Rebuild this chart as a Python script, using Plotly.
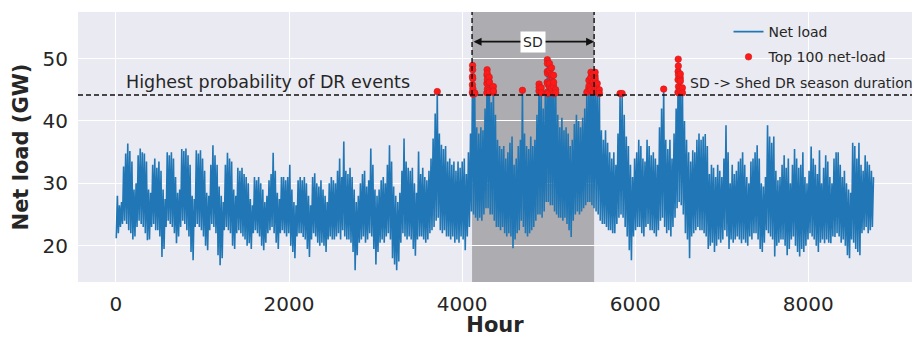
import plotly.graph_objects as go

# ---------------- data ----------------
# daily maximum (evening) net load, GW, one value per day of the year
DAILY_PEAK = [
    28, 26.5, 27, 32.7, 34.8, 36.4, 35.2,
    33.5, 29, 30, 34.5, 35.6, 35, 34.8,
    33.5, 29, 28.5, 33, 34, 32.5, 33.5,
    32, 29, 27.5, 35, 34.5, 35, 34,
    31, 28.5, 29, 35.5, 35.2, 35.6, 34.5,
    33, 28, 27.5, 35.3, 34.8, 35.3, 34,
    32, 28.5, 28, 33, 36.1, 34.5, 33,
    29.5, 28, 27, 33, 34.9, 34, 33.5,
    29, 28, 32.5, 32, 32.5, 31.5, 31,
    30, 27.5, 26.5, 31, 30.5, 31, 30,
    29, 27, 28, 30.5, 31.5, 34.9, 32,
    28.5, 27.5, 31, 31, 30.5, 31, 33,
    29, 27, 26.5, 30.5, 31, 30.5, 31,
    30, 28, 26.5, 31, 31.6, 30, 29.5,
    30.5, 29, 28, 27, 30, 31, 30.5,
    30, 32, 34, 31, 36.7, 32, 31.5,
    32.5, 31, 29, 27, 28, 30, 31.5,
    32, 29.5, 30.5, 35.6, 33, 29, 28,
    29, 30.5, 31, 30, 33, 36.1, 33.5,
    29.5, 28, 27, 28.5, 32, 37.2, 33.5,
    32.5, 32, 32.5, 30, 28.5, 35.1, 31.5,
    32.5, 31, 30.5, 32, 34, 37.2, 41.2,
    44.7, 38, 36.2, 35.5, 36, 33.5, 34,
    33, 33.5, 32, 33.5, 32.5, 33.5, 34,
    31.5, 35, 38, 48.9, 44.5, 39, 38,
    39, 38.5, 42, 48.2, 47, 43, 45.5,
    41, 37, 36, 35.5, 36, 34, 35,
    36.5, 37.5, 33, 34, 36, 37, 44.9,
    38, 36, 35.5, 37.5, 36, 37, 41,
    45.9, 45.3, 42, 44, 49.8, 49.2, 48.5,
    47.3, 45, 41, 39, 40.5, 38.5, 39,
    38, 36, 37, 39.5, 41, 40, 39,
    40.5, 42, 43, 46.5, 47.8, 47.5, 47.8,
    46, 45, 38.5, 37, 38.5, 36.5, 35,
    34, 35, 33, 38, 44.4, 44.4, 41,
    37.5, 36, 33, 31, 34, 35, 37,
    36, 34, 33.5, 37, 36, 34.5, 35,
    34, 33, 39, 42, 45.1, 37, 35.5,
    37, 34, 38, 42, 49.9, 47.5, 45.3,
    40, 37, 35, 33.5, 35.3, 35, 37,
    38, 37, 37.5, 37.9, 36, 31.5, 33,
    32.5, 31, 33, 32, 31, 34, 39.3,
    35, 30, 33, 31.5, 32, 33.5, 34,
    35, 33, 31, 30, 33.5, 34, 35,
    36.1, 34, 30, 29.5, 31, 39.3, 37.5,
    36.5, 37.5, 32, 30.5, 31, 33, 34.5,
    32.5, 34, 30, 33, 35.5, 34, 32.5,
    33, 35, 31, 30, 32, 35.9, 34,
    33, 31.5, 35.3, 30, 32.5, 34.5, 33.5,
    31, 30, 34, 35, 35, 33, 31,
    32, 30, 29, 28.5, 36.5, 36, 34,
    36.5, 33, 32, 34.5, 33.5, 33, 32,
    31,
]

# daily minimum (early-morning) net load, GW
DAILY_TROUGH = [
    21.2, 22, 23, 23.5, 24, 23.5, 22.5,
    22, 21, 21.5, 23, 24, 23.5, 23,
    22, 20.9, 21, 23, 23.5, 22.5, 22.5,
    21.5, 18.2, 19.5, 23, 24, 23.5, 23,
    22, 20.4, 21.5, 23, 24, 23.5, 22.5,
    21.5, 19, 17.7, 23, 23.5, 23, 22.5,
    21.5, 20, 19.3, 22.5, 23.5, 23, 22,
    18.5, 16.9, 18, 22.5, 23, 22.5, 22,
    20, 19.5, 22, 22.5, 22, 21.5, 21,
    20, 20.4, 19.5, 22, 22.5, 22, 21.5,
    20, 19.3, 20.5, 22, 22.5, 23, 22,
    20.5, 19.5, 22, 22.5, 22, 21.5, 22,
    20, 19, 18, 21.5, 22, 22, 21.4,
    21, 19.5, 18.2, 21, 22, 21.5, 20.5,
    20, 20.5, 20, 19, 21, 21.5, 21,
    21, 21.5, 22, 21, 22.5, 21.5, 21,
    21, 20.5, 19, 16.1, 18.5, 20.5, 21,
    21.5, 20.5, 21, 22, 21.5, 19.5, 17,
    19, 20.5, 21, 20.5, 21.5, 22, 21,
    18, 17, 16.1, 17.5, 20.5, 22, 21.5,
    21, 21.5, 21, 19.5, 18.4, 21, 21.5,
    21.5, 21, 20.5, 21, 22, 22.5, 23,
    24, 24.5, 22.5, 22, 22.5, 21.5, 21.5,
    21, 21.5, 20.5, 21, 20.5, 21.5, 21,
    19.3, 21.5, 23, 25.5, 25, 24.5, 24,
    24.5, 24, 25, 26, 26, 25, 25,
    24, 23, 23, 22.5, 23, 22, 21.5,
    22, 21.5, 19.6, 21, 22, 22.5, 24,
    23, 22, 21.5, 22, 22.5, 23, 24,
    25, 25, 24.5, 25.5, 27, 27, 26.5,
    26.5, 25.5, 25, 24.5, 24.5, 24, 24.5,
    23.5, 22.5, 21.4, 24, 25, 25.5, 25,
    25.5, 26, 26.5, 27, 27, 26.5, 26,
    25.5, 25, 24, 23.5, 23.5, 23, 22.5,
    22.5, 22, 22, 23.5, 24.5, 25, 24.5,
    23, 21.5, 19.3, 17.7, 21.5, 22.5, 23,
    23, 22, 21.5, 23, 23.5, 22.5, 22.5,
    22, 21.5, 22.5, 24, 24.5, 23, 22,
    22.5, 21.5, 23, 24.5, 26, 27, 26.5,
    25, 22, 21, 18, 21.5, 22, 22.5,
    23, 22.5, 22.5, 22, 21.5, 19.5, 20,
    20.5, 19, 20, 21, 20.5, 21, 22.5,
    21.5, 19.5, 21, 20.5, 21, 21.5, 21,
    20.4, 21, 20.5, 20, 21.5, 21, 22,
    22, 21, 19.5, 19, 20.5, 22.5, 22,
    21.5, 21, 18.3, 20, 20.5, 21, 21,
    20, 18.5, 19.5, 21, 21.5, 20, 19,
    18.3, 19.5, 19, 20, 21, 22, 21.5,
    21, 20, 19, 20.5, 21, 20.4, 21,
    20.5, 20.4, 21.5, 21.4, 22, 21.5, 20.5,
    21, 20, 18.5, 18, 21, 20.5, 19.5,
    19, 18.5, 22, 22.5, 23, 22, 22.5,
    23,
]
TROUGH_HOUR_OF_DAY = 4
PEAK_HOUR_OF_DAY = 17

# the 100 highest-load hours (hour of year, GW)
TOP_HOURS = [
    3713,
    4118, 4119, 4120, 4121, 4122, 4123, 4124, 4125, 4145, 4146,
    4286, 4287, 4288, 4289, 4290, 4291, 4292,
    4311, 4312, 4313, 4314, 4315, 4360, 4361, 4362,
    4697,
    4888, 4889, 4890, 4913, 4914,
    4982, 4983, 4984, 4985, 4986, 4987, 4988, 4989,
    5007, 5008, 5009, 5010, 5011,
    5031, 5032, 5033, 5034, 5035, 5056, 5057, 5058, 5059, 5081, 5082,
    5441, 5464, 5465, 5466, 5487, 5488, 5489, 5490, 5491,
    5512, 5513, 5514, 5515, 5535, 5536, 5537, 5538, 5539,
    5560, 5561, 5562, 5585, 5586,
    5825, 5849,
    6329,
    6494, 6495, 6496, 6497, 6498, 6499, 6500, 6501,
    6519, 6520, 6521, 6522, 6523, 6545, 6546,
]
TOP_LOADS = [
    44.7,
    44.6, 45.8, 47.1, 48.9, 48.2, 46.8, 45.2, 44.3, 44.5, 44.4,
    44.5, 46.0, 47.3, 48.2, 47.6, 46.6, 45.1,
    44.9, 46.3, 47.0, 46.2, 44.6, 44.6, 45.5, 44.8,
    44.9,
    44.8, 45.9, 45.4, 45.3, 44.5,
    44.6, 46.2, 47.9, 49.8, 49.2, 47.6, 45.9, 44.4,
    45.6, 47.8, 49.2, 48.1, 46.0,
    45.0, 47.1, 48.5, 47.4, 45.3, 45.6, 47.3, 46.2, 44.4, 45.0, 44.5,
    44.6, 45.2, 46.5, 45.6, 45.5, 47.0, 47.8, 46.9, 45.0,
    46.1, 47.5, 46.4, 44.6, 45.8, 47.2, 47.8, 46.7, 45.2,
    44.9, 46.0, 45.1, 45.0, 44.4,
    44.4, 44.4,
    45.1,
    44.6, 46.6, 47.9, 49.9, 48.8, 47.4, 45.5, 44.5,
    45.3, 46.9, 47.5, 46.4, 44.8, 45.3, 44.5,
]

DR_THRESHOLD = 44.15          # GW, highest probability of DR events
SD_START, SD_END = 4115, 5525  # shed DR season (hours)
SD_ARROW_LEVEL = 52.7

X_TICKS = [0, 2000, 4000, 6000, 8000]
Y_TICKS = [20, 30, 40, 50]
X_RANGE = [-438, 9198]
Y_RANGE = [14.2, 57.45]

# ---------------- build hourly series ----------------
points = {}
for d, (lo, hi) in enumerate(zip(DAILY_TROUGH, DAILY_PEAK)):
    points[d * 24 + TROUGH_HOUR_OF_DAY] = lo
    points[d * 24 + PEAK_HOUR_OF_DAY] = hi
for h, v in zip(TOP_HOURS, TOP_LOADS):
    points[h] = v
hours = sorted(points)
loads = [points[h] for h in hours]

FONT = "DejaVu Sans"
TXT = "#262626"

fig = go.Figure()
fig.add_trace(go.Scatter(
    x=hours, y=loads, mode="lines", name="Net load", legendgroup="a",
    line=dict(color="#2177b5", width=1.6),
))
fig.add_trace(go.Scatter(
    x=TOP_HOURS, y=TOP_LOADS, mode="markers", name="Top 100 net-load",
    legendgroup="b",
    marker=dict(color="#ff1a1a", size=6.5, line=dict(color="#c81e1e", width=0.6)),
))

# shed-DR season band
fig.add_shape(type="rect", xref="x", yref="paper", x0=SD_START, x1=SD_END,
              y0=0, y1=1, fillcolor="rgba(120,120,124,0.55)", line_width=0,
              layer="between")
for xv in (SD_START, SD_END):
    fig.add_shape(type="line", xref="x", yref="y", x0=xv, x1=xv,
                  y0=DR_THRESHOLD, y1=Y_RANGE[1],
                  line=dict(color="#111111", width=1.4, dash="5px,3px"))
# threshold line
fig.add_shape(type="line", xref="paper", yref="y", x0=0, x1=1,
              y0=DR_THRESHOLD, y1=DR_THRESHOLD,
              line=dict(color="#111111", width=1.5, dash="5px,3px"))

# double arrow
fig.add_annotation(x=SD_END, y=SD_ARROW_LEVEL, ax=SD_START, ay=SD_ARROW_LEVEL,
                   xref="x", yref="y", axref="x", ayref="y", text="",
                   showarrow=True, arrowhead=2, startarrowhead=2,
                   arrowside="end+start", arrowsize=1, arrowwidth=1.6,
                   arrowcolor="#111111")
fig.add_annotation(x=(SD_START + SD_END) / 2, y=SD_ARROW_LEVEL, text="SD",
                   showarrow=False, font=dict(family=FONT, size=14, color=TXT),
                   bgcolor="white", borderpad=2)
fig.add_annotation(x=96, y=46.2, text="Highest probability of DR events",
                   xanchor="left", yanchor="middle", showarrow=False,
                   font=dict(family=FONT, size=17.5, color=TXT))
fig.add_annotation(x=6605, y=46.1, text="SD -> Shed DR season duration",
                   xanchor="left", yanchor="middle", showarrow=False,
                   font=dict(family=FONT, size=14, color=TXT))

fig.update_layout(
    width=914, height=337,
    margin=dict(l=78, r=2, t=12, b=55),
    paper_bgcolor="white", plot_bgcolor="#EAEAF2",
    font=dict(family=FONT, color=TXT),
    showlegend=True,
    legend=dict(x=0.78, y=0.985, xanchor="left", yanchor="top",
                bgcolor="rgba(0,0,0,0)", font=dict(family=FONT, size=14, color=TXT),
                itemwidth=30, tracegroupgap=4),
)
fig.update_xaxes(
    range=X_RANGE, tickvals=X_TICKS, ticktext=[str(t) for t in X_TICKS],
    showgrid=True, gridcolor="white", gridwidth=1.3, zeroline=False,
    showline=False, ticks="", ticklabelstandoff=8,
    tickfont=dict(family=FONT, size=20, color=TXT),
    title=dict(text="<b>Hour</b>", font=dict(family=FONT, size=21, color=TXT), standoff=4),
)
fig.update_yaxes(
    range=Y_RANGE, tickvals=Y_TICKS, ticktext=[str(t) for t in Y_TICKS],
    showgrid=True, gridcolor="white", gridwidth=1.3, zeroline=False,
    showline=False, ticks="", ticklabelstandoff=9,
    tickfont=dict(family=FONT, size=20, color=TXT),
    title=dict(text="<b>Net load (GW)</b>", font=dict(family=FONT, size=21, color=TXT), standoff=8),
)

fig.write_html("out.html")
